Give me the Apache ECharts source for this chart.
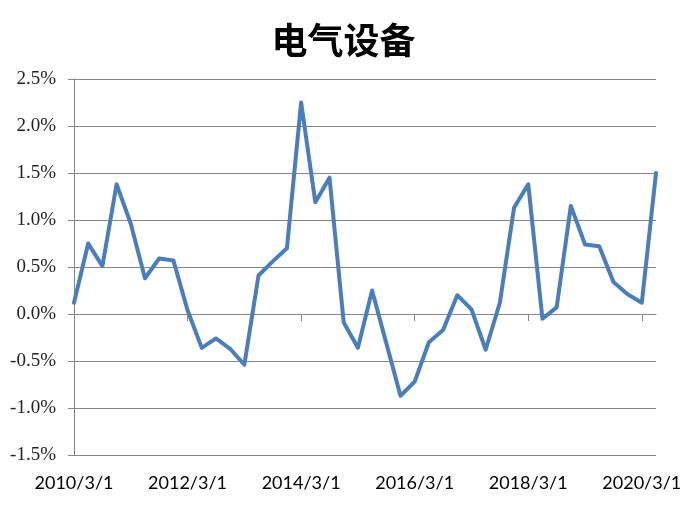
<!DOCTYPE html>
<html>
<head>
<meta charset="utf-8">
<script src="https://cdn.jsdelivr.net/npm/echarts@6/dist/echarts.min.js"></script>
<style>
html,body{margin:0;padding:0;background:#fff;}
#chart{width:687px;height:515px;}
</style>
</head>
<body>
<div id="chart"></div>
<script>
var titleText = '电气设备';
var categories = [
  '2010/3/1','2010/6/1','2010/9/1','2010/12/1',
  '2011/3/1','2011/6/1','2011/9/1','2011/12/1',
  '2012/3/1','2012/6/1','2012/9/1','2012/12/1',
  '2013/3/1','2013/6/1','2013/9/1','2013/12/1',
  '2014/3/1','2014/6/1','2014/9/1','2014/12/1',
  '2015/3/1','2015/6/1','2015/9/1','2015/12/1',
  '2016/3/1','2016/6/1','2016/9/1','2016/12/1',
  '2017/3/1','2017/6/1','2017/9/1','2017/12/1',
  '2018/3/1','2018/6/1','2018/9/1','2018/12/1',
  '2019/3/1','2019/6/1','2019/9/1','2019/12/1',
  '2020/3/1','2020/6/1'
];
var values = [
  0.12, 0.75, 0.51, 1.38,
  0.96, 0.38, 0.59, 0.57,
  0.04, -0.36, -0.26, -0.37,
  -0.54, 0.41, 0.56, 0.70,
  2.25, 1.19, 1.45, -0.09,
  -0.36, 0.25, -0.31, -0.87,
  -0.72, -0.30, -0.17, 0.20,
  0.05, -0.38, 0.12, 1.13,
  1.38, -0.05, 0.07, 1.15,
  0.74, 0.72, 0.34, 0.21,
  0.12, 1.50
];
var yMin = -1.5, yMax = 2.5, yStep = 0.5;

var chart = echarts.init(document.getElementById('chart'));
var gray = '#868686';
chart.setOption({
  animation: false,
  backgroundColor: '#ffffff',
  title: {
    text: titleText,
    left: 'center',
    top: 17,
    textStyle: { fontFamily: 'Noto Sans CJK SC', fontSize: 36, fontWeight: 'bold', color: '#000' }
  },
  grid: { left: 74, right: 31, top: 79, bottom: 60 },
  xAxis: [
    {
      type: 'category',
      data: categories,
      boundaryGap: false,
      axisLine: { show: true, onZero: true, lineStyle: { color: gray, width: 1 } },
      axisTick: { show: true, interval: 7, length: 7, lineStyle: { color: gray } },
      axisLabel: { show: false },
      splitLine: { show: false }
    },
    {
      type: 'category',
      data: categories,
      boundaryGap: false,
      position: 'bottom',
      axisLine: { show: false, onZero: false },
      axisTick: { show: false },
      axisLabel: {
        show: true, interval: 7, margin: 19,
        fontFamily: 'Lato', fontSize: 18, color: '#000'
      },
      splitLine: { show: false }
    }
  ],
  yAxis: {
    type: 'value',
    min: yMin, max: yMax, interval: yStep,
    axisLine: { show: true, lineStyle: { color: gray, width: 1 } },
    axisTick: { show: true, length: 6, lineStyle: { color: gray } },
    splitLine: { show: true, lineStyle: { color: gray, width: 1 } },
    axisLabel: {
      margin: 18,
      fontFamily: 'Liberation Serif', fontSize: 19, color: '#222',
      formatter: function (v) { return v.toFixed(1) + '%'; }
    }
  },
  series: [{
    type: 'line',
    xAxisIndex: 0,
    data: values,
    symbol: 'none',
    smooth: false,
    lineStyle: { color: '#4A7EBB', width: 4, join: 'round', cap: 'round' },
    itemStyle: { color: '#4A7EBB' }
  }]
});
</script>
</body>
</html>
